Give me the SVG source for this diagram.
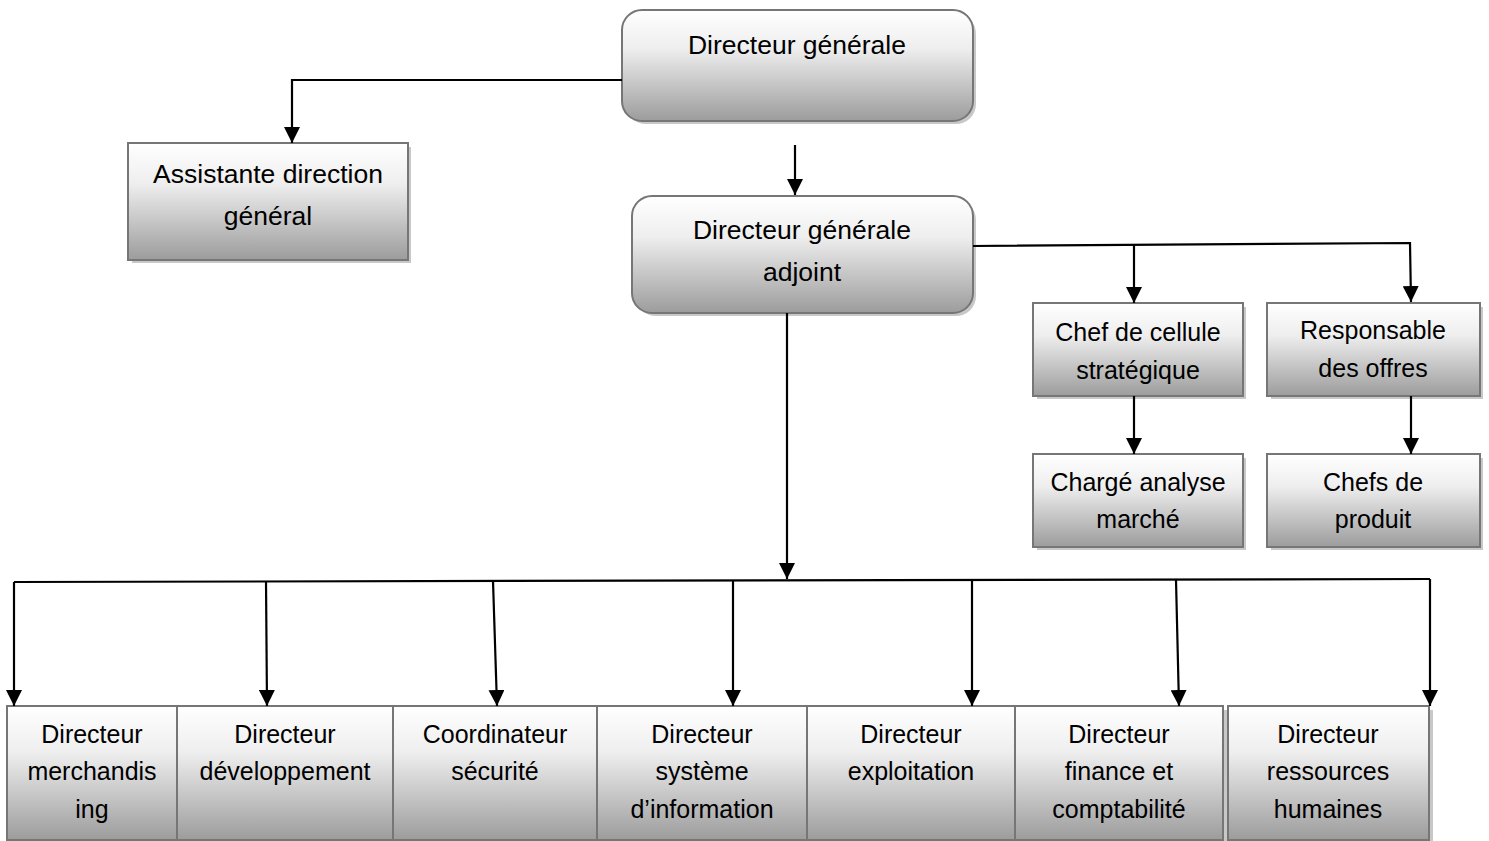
<svg xmlns="http://www.w3.org/2000/svg" width="1489" height="841" viewBox="0 0 1489 841">
  <style>
    .box { fill: url(#fade); stroke: #767676; stroke-width: 2; }
    .shadow { fill: #c8c8c8; }
    .lbl { font-family: "Liberation Sans", Arial, sans-serif; font-size: 25px; fill: #000; text-anchor: middle; }
    .big { font-size: 26.5px; }
    .wire { fill: none; stroke: #000; stroke-width: 2.2; }
  </style>
  <defs>
    <linearGradient id="fade" x1="0" y1="0" x2="0" y2="1">
      <stop offset="0" stop-color="#ffffff"/>
      <stop offset="0.35" stop-color="#eeeeee"/>
      <stop offset="1" stop-color="#9c9c9c"/>
    </linearGradient>
    <marker id="tip" viewBox="0 0 16 16" refX="16" refY="8" markerWidth="16" markerHeight="16" markerUnits="userSpaceOnUse" orient="auto">
      <path d="M0,0 L16,8 L0,16 Z" fill="#000"/>
    </marker>
  </defs>

  <rect width="1489" height="841" fill="#fff"/>

  <g id="dg">
    <rect class="shadow" x="626" y="14" width="350" height="110" rx="20"/>
    <rect class="box" x="622" y="10" width="351" height="111" rx="20"/>
    <text class="lbl big" x="797" y="54">Directeur générale</text>
  </g>

  <g id="assistante">
    <rect class="shadow" x="132" y="147" width="279" height="116"/>
    <rect class="box" x="128" y="143" width="280" height="117"/>
    <text class="lbl big" x="268" y="183">Assistante direction</text>
    <text class="lbl big" x="268" y="225">général</text>
  </g>

  <g id="dga">
    <rect class="shadow" x="636" y="200" width="340" height="116" rx="20"/>
    <rect class="box" x="632" y="196" width="341" height="117" rx="20"/>
    <text class="lbl big" x="802" y="239">Directeur générale</text>
    <text class="lbl big" x="802" y="281">adjoint</text>
  </g>

  <g id="cellule">
    <rect class="shadow" x="1037" y="307" width="209" height="92"/>
    <rect class="box" x="1033" y="303" width="210" height="93"/>
    <text class="lbl" x="1138" y="341">Chef de cellule</text>
    <text class="lbl" x="1138" y="379">stratégique</text>
  </g>

  <g id="offres">
    <rect class="shadow" x="1271" y="307" width="212" height="92"/>
    <rect class="box" x="1267" y="303" width="213" height="93"/>
    <text class="lbl" x="1373" y="339">Responsable</text>
    <text class="lbl" x="1373" y="377">des offres</text>
  </g>

  <g id="analyse">
    <rect class="shadow" x="1037" y="458" width="209" height="92"/>
    <rect class="box" x="1033" y="454" width="210" height="93"/>
    <text class="lbl" x="1138" y="491">Chargé analyse</text>
    <text class="lbl" x="1138" y="528">marché</text>
  </g>

  <g id="produit">
    <rect class="shadow" x="1271" y="458" width="212" height="92"/>
    <rect class="box" x="1267" y="454" width="213" height="93"/>
    <text class="lbl" x="1373" y="491">Chefs de</text>
    <text class="lbl" x="1373" y="528">produit</text>
  </g>

  <g id="merchandising">
    <rect class="shadow" x="11" y="710" width="169" height="134"/>
    <rect class="box" x="7" y="706" width="170" height="134"/>
    <text class="lbl" x="92" y="743">Directeur</text>
    <text class="lbl" x="92" y="780">merchandis</text>
    <text class="lbl" x="92" y="818">ing</text>
  </g>

  <g id="developpement">
    <rect class="shadow" x="181" y="710" width="216" height="134"/>
    <rect class="box" x="177" y="706" width="216" height="134"/>
    <text class="lbl" x="285" y="743">Directeur</text>
    <text class="lbl" x="285" y="780">développement</text>
  </g>

  <g id="securite">
    <rect class="shadow" x="397" y="710" width="204" height="134"/>
    <rect class="box" x="393" y="706" width="204" height="134"/>
    <text class="lbl" x="495" y="743">Coordinateur</text>
    <text class="lbl" x="495" y="780">sécurité</text>
  </g>

  <g id="si">
    <rect class="shadow" x="601" y="710" width="210" height="134"/>
    <rect class="box" x="597" y="706" width="210" height="134"/>
    <text class="lbl" x="702" y="743">Directeur</text>
    <text class="lbl" x="702" y="780">système</text>
    <text class="lbl" x="702" y="818">d’information</text>
  </g>

  <g id="exploitation">
    <rect class="shadow" x="811" y="710" width="208" height="134"/>
    <rect class="box" x="807" y="706" width="208" height="134"/>
    <text class="lbl" x="911" y="743">Directeur</text>
    <text class="lbl" x="911" y="780">exploitation</text>
  </g>

  <g id="finance">
    <rect class="shadow" x="1019" y="710" width="208" height="134"/>
    <rect class="box" x="1015" y="706" width="208" height="134"/>
    <text class="lbl" x="1119" y="743">Directeur</text>
    <text class="lbl" x="1119" y="780">finance et</text>
    <text class="lbl" x="1119" y="818">comptabilité</text>
  </g>

  <g id="rh">
    <rect class="shadow" x="1232" y="710" width="201" height="134"/>
    <rect class="box" x="1228" y="706" width="201" height="134"/>
    <text class="lbl" x="1328" y="743">Directeur</text>
    <text class="lbl" x="1328" y="780">ressources</text>
    <text class="lbl" x="1328" y="818">humaines</text>
  </g>

  <!-- connectors, drawn last so they meet the box edges above the shadows -->
  <g id="connectors">
    <polyline class="wire" points="622,80 292,80 292,143" marker-end="url(#tip)"/>
    <line class="wire" x1="795" y1="145" x2="795" y2="195" marker-end="url(#tip)"/>
    <polyline class="wire" points="973,246 1410,243 1411,302" marker-end="url(#tip)"/>
    <line class="wire" x1="1134" y1="245" x2="1134" y2="303" marker-end="url(#tip)"/>
    <line class="wire" x1="1134" y1="396" x2="1134" y2="454" marker-end="url(#tip)"/>
    <line class="wire" x1="1411" y1="396" x2="1411" y2="454" marker-end="url(#tip)"/>
    <line class="wire" x1="787" y1="313" x2="787" y2="579" marker-end="url(#tip)"/>
    <line class="wire" x1="14" y1="582" x2="1430" y2="579"/>
    <line class="wire" x1="14" y1="582" x2="14" y2="706" marker-end="url(#tip)"/>
    <line class="wire" x1="266" y1="581" x2="267" y2="706" marker-end="url(#tip)"/>
    <line class="wire" x1="493" y1="581" x2="497" y2="706" marker-end="url(#tip)"/>
    <line class="wire" x1="733" y1="581" x2="733" y2="706" marker-end="url(#tip)"/>
    <line class="wire" x1="972" y1="580" x2="972" y2="706" marker-end="url(#tip)"/>
    <line class="wire" x1="1176" y1="580" x2="1179" y2="706" marker-end="url(#tip)"/>
    <line class="wire" x1="1430" y1="579" x2="1430" y2="706" marker-end="url(#tip)"/>
  </g>
</svg>
